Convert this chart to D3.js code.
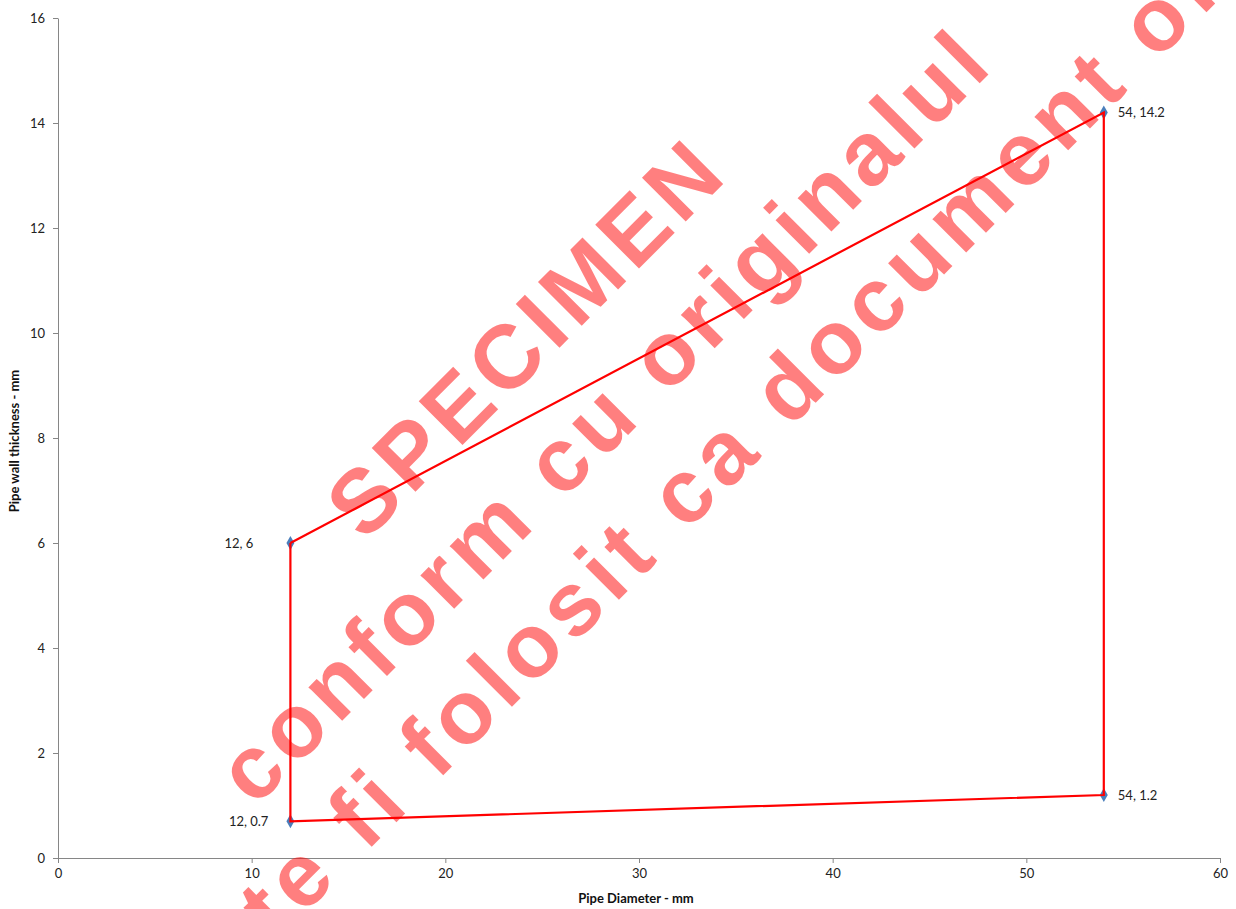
<!DOCTYPE html>
<html>
<head>
<meta charset="utf-8">
<script src="https://cdn.jsdelivr.net/npm/d3@7"></script>
<style>
html,body{margin:0;padding:0;background:#fff;}
svg{display:block;}
</style>
</head>
<body>
<svg id="chart" width="1236" height="909"></svg>
<script>
// ---- data ----
const pipeDiameter = [12, 54, 54, 12];      // mm
const wallThickness = [6, 14.2, 1.2, 0.7];  // mm
const xTicks = [0, 10, 20, 30, 40, 50, 60];
const yTicks = [0, 2, 4, 6, 8, 10, 12, 14, 16];
const xTitle = "Pipe Diameter - mm";
const yTitle = "Pipe wall thickness - mm";
const watermarkLines = ["SPECIMEN", "conform cu originalul", "nu poate fi folosit ca document oficial"];

(function () {
const svg = d3.select("#chart");
const pL = 58, pR = 1220, pT = 18, pB = 858;
const x = d3.scaleLinear().domain([0, 60]).range([pL, pR]);
const y = d3.scaleLinear().domain([0, 16]).range([pB, pT]);
const font = "Lato, 'Open Sans', 'DejaVu Sans', sans-serif";
const axisColor = "#868686";

// axes
const xAxis = svg.append("g").attr("transform", `translate(0,${pB})`)
  .call(d3.axisBottom(x).tickValues(xTicks).tickSize(5).tickSizeOuter(0).tickPadding(6));
const yAxis = svg.append("g").attr("transform", `translate(${pL},0)`)
  .call(d3.axisLeft(y).tickValues(yTicks).tickSize(5).tickSizeOuter(0).tickPadding(8));
[xAxis, yAxis].forEach(a => {
  a.select(".domain").attr("stroke", axisColor).attr("stroke-width", 1);
  a.selectAll(".tick line").attr("stroke", axisColor);
  a.selectAll(".tick text").attr("fill", "#222").style("font-family", font).style("font-size", "13px");
});

// axis titles
svg.append("text").attr("x", 636).attr("y", 903).attr("text-anchor", "middle")
  .style("font-family", font).style("font-size", "13px").style("font-weight", "bold")
  .attr("fill", "#111").text(xTitle);
svg.append("text").attr("transform", `translate(19,${(pT + pB) / 2 + 3}) rotate(-90)`)
  .attr("text-anchor", "middle")
  .style("font-family", font).style("font-size", "13px").style("font-weight", "bold")
  .attr("fill", "#111").text(yTitle);

// series
const pts = pipeDiameter.map((d, i) => ({ x: d, y: wallThickness[i] }));
svg.append("g").selectAll("path.mk").data(pts).join("path")
  .attr("class", "mk")
  .attr("d", d3.symbol(d3.symbolDiamond, 55))
  .attr("transform", d => `translate(${x(d.x)},${y(d.y)})`)
  .attr("fill", "#4A7EBB");

svg.append("path")
  .datum(pts.concat([pts[0]]))
  .attr("d", d3.line().x(d => x(d.x)).y(d => y(d.y)))
  .attr("fill", "none").attr("stroke", "#ff0000").attr("stroke-width", 2.2)
  .attr("stroke-linejoin", "miter");

// data labels (left of points at the small diameter, right of points at the large one)
const leftGap = d => (String(d.y).length < 3 ? 37 : 22);
svg.append("g").selectAll("text").data(pts).join("text")
  .attr("x", d => d.x < 30 ? x(d.x) - leftGap(d) : x(d.x) + 14)
  .attr("y", d => y(d.y) + 4.5)
  .attr("text-anchor", d => d.x < 30 ? "end" : "start")
  .style("font-family", font).style("font-size", "13px")
  .attr("fill", "#222")
  .text(d => `${d.x}, ${d.y}`);

// watermark
const wm = svg.append("g")
  .attr("transform", "translate(626,437) rotate(-45)")
  .attr("fill", "#ff0000").attr("fill-opacity", 0.5);
wm.selectAll("text").data(watermarkLines).join("text")
  .attr("x", (d, i) => (i === 2 ? 4 : 0)).attr("y", (d, i) => (i - 1) * 110)
  .attr("text-anchor", "middle")
  .style("font-family", "'Liberation Sans', Arial, sans-serif")
  .style("font-weight", "bold").style("font-size", "90px")
  .style("letter-spacing", (d, i) => (i === 2 ? "7.1px" : "6.2px"))
  .text(d => d);
})();
</script>
</body>
</html>
